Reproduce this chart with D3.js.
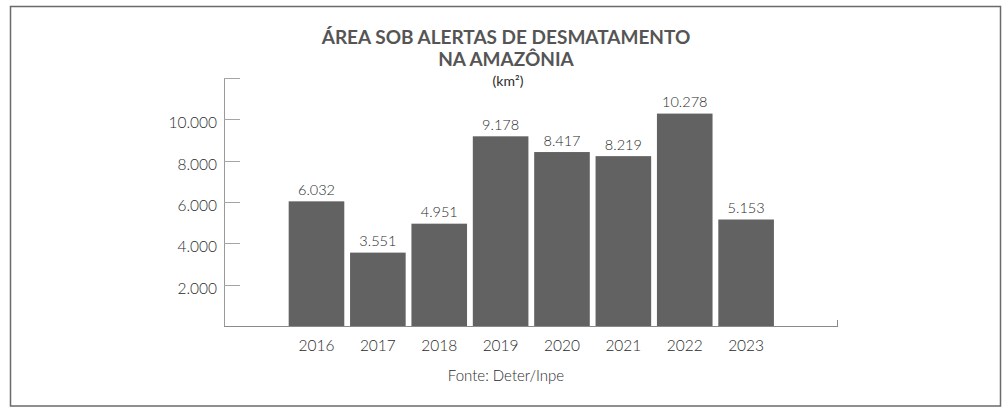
<!DOCTYPE html>
<html>
<head>
<meta charset="utf-8">
<script src="https://cdn.jsdelivr.net/npm/d3@7"></script>
<style>
  html, body { margin: 0; padding: 0; background: #fff; }
  svg { display: block; }
</style>
</head>
<body>
<div id="chart"></div>
<script>
// Data
const years = ['2016', '2017', '2018', '2019', '2020', '2021', '2022', '2023'];
const areas = [6032, 3551, 4951, 9178, 8417, 8219, 10278, 5153];
const yTicks = [2000, 4000, 6000, 8000, 10000];
const titleLines = ['ÁREA SOB ALERTAS DE DESMATAMENTO', 'NA AMAZÔNIA'];
const unitLabel = '(km²)';
const sourceLabel = 'Fonte: Deter/Inpe';

// Layout
const width = 1003, height = 410;
const xLeft = 224, xRight = 838;
const yBase = 326, yTop = 78;
const barColor = '#626262';
const textColor = '#2a2a2a';
const labelFont = 'Lato, sans-serif';
const labelWeight = 300;
const fmt = d3.format(',');   // then swap commas for dots
const ptNum = v => fmt(v).replace(/,/g, '.');

const svg = d3.select('#chart').append('svg')
    .attr('width', width)
    .attr('height', height);

// frame
svg.append('rect')
    .attr('x', 10.5).attr('y', 6.5)
    .attr('width', 990).attr('height', 399.5)
    .attr('fill', 'none')
    .attr('stroke', '#6a6a6a')
    .attr('stroke-width', 1.5);

// scales
const x = d3.scaleBand()
    .domain(years)
    .range([285.8, 776.8])
    .paddingInner(0.094)
    .paddingOuter(0.047);

const y = d3.scaleLinear()
    .domain([0, 12000])
    .range([yBase, yTop]);

// y axis: vertical line + short ticks to the right
const yAxis = svg.append('g').attr('class', 'y axis');
yAxis.append('line')
    .attr('x1', xLeft + 0.5).attr('x2', xLeft + 0.5)
    .attr('y1', y(12000)).attr('y2', yBase)
    .attr('stroke', '#9a9a9a');
yAxis.selectAll('line.tick')
    .data(yTicks.concat([12000]))
    .join('line')
    .attr('class', 'tick')
    .attr('x1', xLeft).attr('x2', xLeft + 16)
    .attr('y1', d => Math.round(y(d)) + 0.5)
    .attr('y2', d => Math.round(y(d)) + 0.5)
    .attr('stroke', '#a5a5a5');
yAxis.selectAll('text')
    .data(yTicks)
    .join('text')
    .attr('x', xLeft - 7)
    .attr('y', d => y(d) + 9)
    .attr('text-anchor', 'end')
    .attr('font-family', labelFont)
    .attr('font-weight', labelWeight)
    .attr('font-size', 15.5)
    .attr('fill', textColor)
    .text(d => ptNum(d));

// baseline with small end tick
svg.append('line')
    .attr('x1', xLeft).attr('x2', xRight)
    .attr('y1', yBase + 0.5).attr('y2', yBase + 0.5)
    .attr('stroke', '#8a8a8a');
svg.append('line')
    .attr('x1', xRight - 0.5).attr('x2', xRight - 0.5)
    .attr('y1', yBase - 6).attr('y2', yBase + 0.5)
    .attr('stroke', '#8a8a8a');

// bars
svg.selectAll('rect.bar')
    .data(areas)
    .join('rect')
    .attr('class', 'bar')
    .attr('x', (d, i) => x(years[i]))
    .attr('y', d => y(d))
    .attr('width', x.bandwidth())
    .attr('height', d => yBase - y(d))
    .attr('fill', barColor);

// value labels
svg.selectAll('text.value')
    .data(areas)
    .join('text')
    .attr('class', 'value')
    .attr('x', (d, i) => x(years[i]) + x.bandwidth() / 2)
    .attr('y', d => y(d) - 6.5)
    .attr('text-anchor', 'middle')
    .attr('font-family', labelFont)
    .attr('font-weight', labelWeight)
    .attr('font-size', 14.5)
    .attr('fill', textColor)
    .text(d => ptNum(d));

// x labels
svg.selectAll('text.year')
    .data(years)
    .join('text')
    .attr('class', 'year')
    .attr('x', d => x(d) + x.bandwidth() / 2)
    .attr('y', 351)
    .attr('text-anchor', 'middle')
    .attr('font-family', labelFont)
    .attr('font-weight', labelWeight)
    .attr('font-size', 15.5)
    .attr('fill', textColor)
    .text(d => d);

// title
svg.selectAll('text.title')
    .data(titleLines)
    .join('text')
    .attr('class', 'title')
    .attr('x', 506)
    .attr('y', (d, i) => 44 + i * 22)
    .attr('text-anchor', 'middle')
    .attr('font-family', 'Lato, sans-serif')
    .attr('font-weight', 'bold')
    .attr('font-size', 19)
    .attr('fill', '#555')
    .text(d => d);

svg.append('text')
    .attr('x', 508).attr('y', 86)
    .attr('text-anchor', 'middle')
    .attr('font-family', labelFont)
    .attr('font-size', 14)
    .attr('fill', textColor)
    .text(unitLabel);

svg.append('text')
    .attr('x', 506).attr('y', 381)
    .attr('text-anchor', 'middle')
    .attr('font-family', labelFont)
    .attr('font-weight', labelWeight)
    .attr('font-size', 15)
    .attr('fill', textColor)
    .text(sourceLabel);
</script>
</body>
</html>
